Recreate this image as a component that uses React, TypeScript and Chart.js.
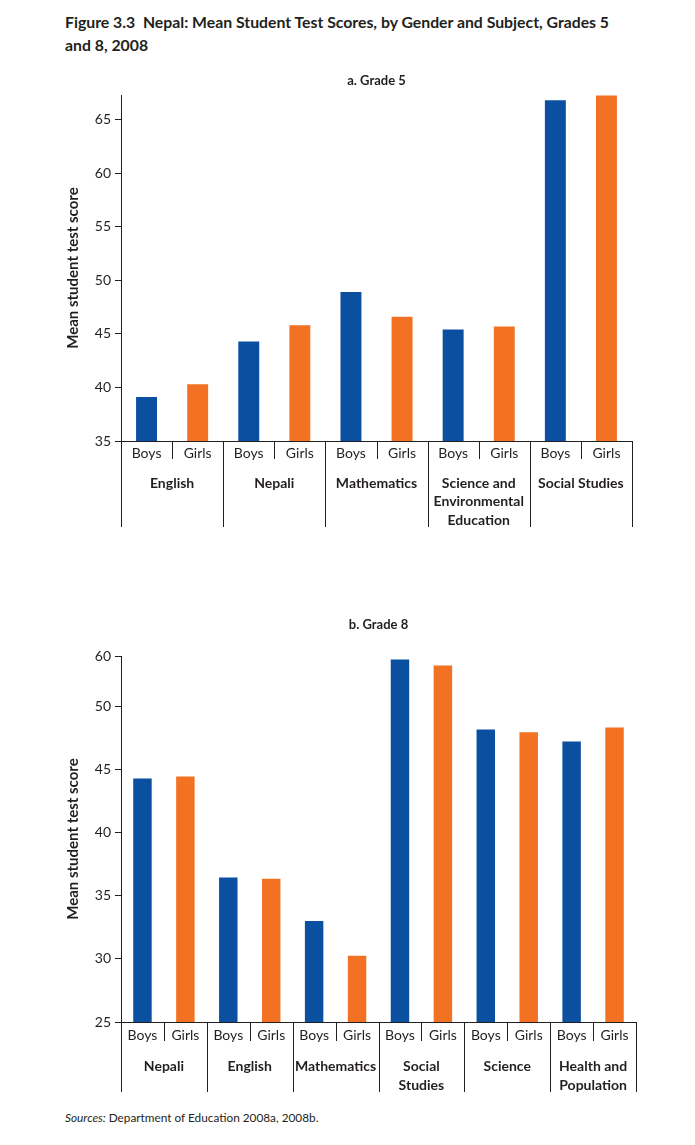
import React, { useEffect, useRef } from "react";
import { Chart, registerables } from "chart.js";

Chart.register(...registerables);

// ---------- Data ----------
const genders = ["Boys", "Girls"];

const subjects5: string[][] = [
  ["English"],
  ["Nepali"],
  ["Mathematics"],
  ["Science and", "Environmental", "Education"],
  ["Social Studies"],
];
const boys5 = [39.1, 44.3, 48.9, 45.4, 66.8];
const girls5 = [40.3, 45.8, 46.6, 45.7, 67.25];
const yTicks5 = [35, 40, 45, 50, 55, 60, 65];
const yTickLabels5 = ["35", "40", "45", "50", "55", "60", "65"];

const subjects8: string[][] = [
  ["Nepali"],
  ["English"],
  ["Mathematics"],
  ["Social", "Studies"],
  ["Science"],
  ["Health and", "Population"],
];
const boys8 = [44.3, 36.45, 33.0, 53.73, 48.17, 47.22];
const girls8 = [44.45, 36.35, 30.25, 53.25, 47.95, 48.33];
const yTicks8 = [25, 30, 35, 40, 45, 50, 54];
const yTickLabels8 = ["25", "30", "35", "40", "45", "50", "60"];

const BLUE = "#0a4fa0";
const ORANGE = "#f27122";
const INK = "#231f20";
const FONT = "Lato, 'Open Sans', sans-serif";

type PanelProps = {
  top: number;
  width: number;
  height: number;
  title: string;
  groups: string[][];
  boys: number[];
  girls: number[];
  ticks: number[];
  tickLabels: string[];
  min: number;
  max: number;
  padRight: number;
  titlePadTop: number;
  titlePadBottom: number;
  xAxisHeight: number;
  xTickPad: number;
  subLen: number;
  labelOffset: number;
  lineGap: number;
  barPct: number;
};

function makeGroupPlugin(p: PanelProps) {
  return {
    id: "groupAxis",
    afterDraw(chart: any) {
      const { ctx, chartArea, scales } = chart;
      const x = scales.x;
      const n = p.groups.length * 2;
      const y0 = chartArea.bottom;
      const edge = (i: number) =>
        i === 0
          ? chartArea.left
          : i === n
          ? chartArea.right
          : (x.getPixelForValue(i - 1) + x.getPixelForValue(i)) / 2;
      ctx.save();
      ctx.strokeStyle = INK;
      ctx.lineWidth = 1;
      for (let i = 0; i <= n; i++) {
        const px = Math.round(edge(i)) + 0.5;
        const len = i % 2 === 0 ? p.xAxisHeight : p.subLen;
        ctx.beginPath();
        ctx.moveTo(px, y0);
        ctx.lineTo(px, y0 + len);
        ctx.stroke();
      }
      ctx.fillStyle = INK;
      ctx.font = `bold 14px ${FONT}`;
      ctx.textAlign = "center";
      ctx.textBaseline = "middle";
      p.groups.forEach((lines, g) => {
        const cx = (edge(2 * g) + edge(2 * g + 2)) / 2;
        lines.forEach((t, k) => {
          ctx.fillText(t, cx, y0 + p.labelOffset + k * p.lineGap);
        });
      });
      ctx.restore();
    },
  };
}

function Panel(p: PanelProps) {
  const ref = useRef<HTMLCanvasElement | null>(null);
  useEffect(() => {
    if (!ref.current) return;
    const labels = p.groups.flatMap(() => genders);
    const values = p.groups.flatMap((_, i) => [p.boys[i], p.girls[i]]);
    const colors = p.groups.flatMap(() => [BLUE, ORANGE]);
    const chart = new Chart(ref.current, {
      type: "bar",
      data: {
        labels,
        datasets: [
          {
            data: values,
            backgroundColor: colors,
            borderWidth: 0,
            categoryPercentage: 1,
            barPercentage: p.barPct,
          },
        ],
      },
      options: {
        animation: false,
        responsive: false,
        devicePixelRatio: 1,
        layout: { padding: { left: 0, right: p.padRight, top: 0, bottom: 8 } },
        plugins: {
          legend: { display: false },
          tooltip: { enabled: false },
          title: {
            display: true,
            text: p.title,
            fullSize: false,
            color: INK,
            font: { family: FONT, size: 13, weight: "bold" },
            padding: { top: p.titlePadTop, bottom: p.titlePadBottom },
          },
        },
        scales: {
          x: {
            type: "category",
            offset: true,
            grid: { display: false, drawTicks: false },
            border: { display: true, color: INK, width: 1 },
            ticks: {
              color: INK,
              font: { family: FONT, size: 14 },
              padding: p.xTickPad,
              maxRotation: 0,
              autoSkip: false,
            },
            afterFit: (s: any) => {
              s.height = p.xAxisHeight;
            },
          },
          y: {
            type: "linear",
            min: p.min,
            max: p.max,
            grid: {
              display: true,
              drawOnChartArea: false,
              drawTicks: true,
              tickLength: 6,
              color: INK,
            },
            border: { display: true, color: INK, width: 1 },
            ticks: {
              color: INK,
              font: { family: FONT, size: 14 },
              padding: 4,
              callback: (_v: any, i: number) => p.tickLabels[i],
            },
            afterBuildTicks: (s: any) => {
              s.ticks = p.ticks.map((v) => ({ value: v }));
            },
            afterFit: (s: any) => {
              s.width = 113;
            },
            title: {
              display: true,
              text: "Mean student test score",
              color: INK,
              font: { family: FONT, size: 15, weight: "bold" },
              padding: { top: 56, bottom: 0 },
            },
          },
        },
      },
      plugins: [makeGroupPlugin(p)],
    } as any);
    return () => chart.destroy();
  }, []);
  return (
    <canvas
      ref={ref}
      width={p.width}
      height={p.height}
      style={{ position: "absolute", left: 0, top: p.top, width: p.width, height: p.height }}
    />
  );
}

export default function App() {
  return (
    <div style={{ position: "relative", width: 679, height: 1129, fontFamily: FONT, color: INK }}>
      <div
        style={{
          position: "absolute",
          left: 57,
          top: 2,
          fontWeight: "bold",
          fontSize: 15.8,
          lineHeight: "23px",
          whiteSpace: "pre",
        }}
      >
        {"Figure 3.3  Nepal: Mean Student Test Scores, by Gender and Subject, Grades 5"}
        <br />
        {"and 8, 2008"}
      </div>
      <Panel
        top={52}
        width={679}
        height={475}
        title="a. Grade 5"
        groups={subjects5}
        boys={boys5}
        girls={girls5}
        ticks={yTicks5}
        tickLabels={yTickLabels5}
        min={35}
        max={67.3}
        padRight={55}
        titlePadTop={13.2}
        titlePadBottom={6.2}
        xAxisHeight={86}
        xTickPad={3.6}
        subLen={18}
        labelOffset={42}
        lineGap={18.5}
        barPct={0.41}
      />
      <Panel
        top={582}
        width={679}
        height={510}
        title="b. Grade 8"
        groups={subjects8}
        boys={boys8}
        girls={girls8}
        ticks={yTicks8}
        tickLabels={yTickLabels8}
        min={25}
        max={54}
        padRight={51}
        titlePadTop={27.2}
        titlePadBottom={23.2}
        xAxisHeight={70}
        xTickPad={4.6}
        subLen={19}
        labelOffset={44}
        lineGap={19}
        barPct={0.43}
      />
      <div style={{ position: "absolute", left: 57, top: 1102, fontSize: 11.8, lineHeight: "16px" }}>
        <i>Sources:</i> Department of Education 2008a, 2008b.
      </div>
    </div>
  );
}
